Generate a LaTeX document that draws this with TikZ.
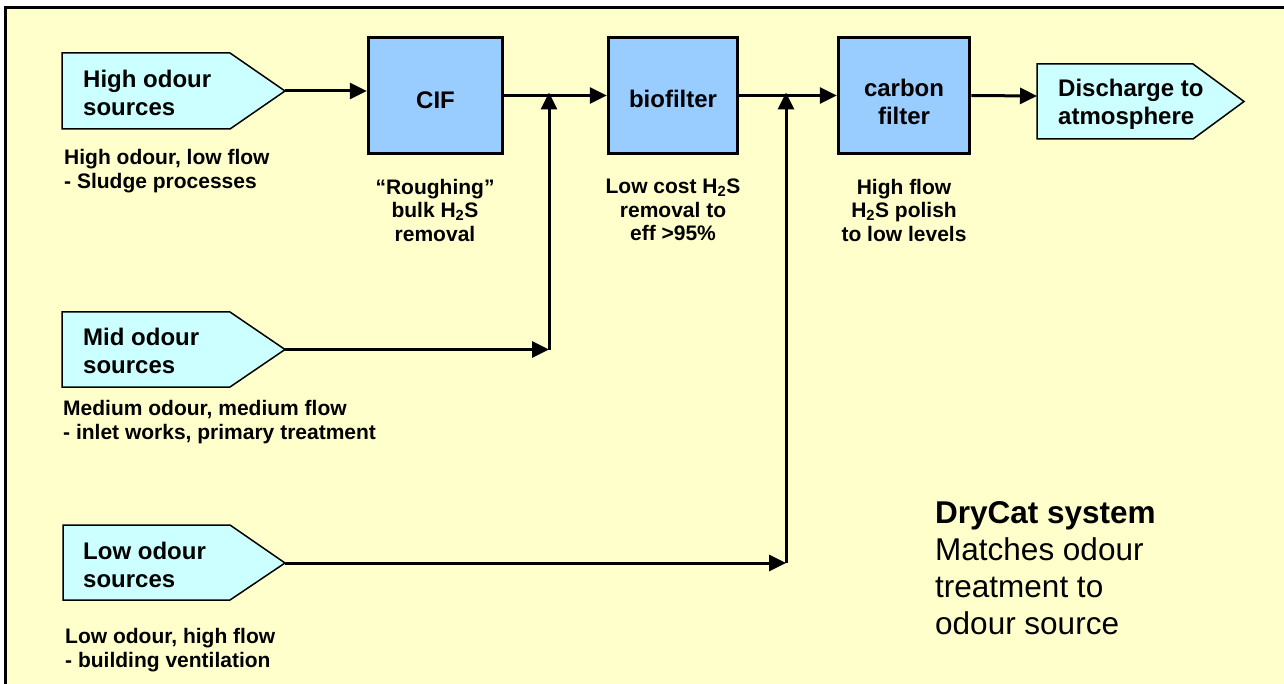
\documentclass[tikz,border=0pt]{standalone}
\usepackage{fontspec}
\setmainfont{Liberation Sans}
\usetikzlibrary{arrows.meta}
\definecolor{bgyellow}{HTML}{FFFFCC}
\definecolor{boxblue}{HTML}{99CCFF}
\definecolor{srccyan}{HTML}{CCFFFF}
\tikzset{
  proc/.style={draw, line width=3.5pt, fill=boxblue, inner sep=0pt},
  proctext/.style={inner sep=0pt, align=center, font=\fontsize{24}{28}\selectfont\bfseries},
  srcshape/.style={draw, line width=1.5pt, fill=srccyan, line join=miter},
  srctext/.style={anchor=west, inner sep=0pt, align=left, font=\fontsize{24}{28}\selectfont\bfseries},
  capt/.style={inner sep=0pt, align=left, font=\fontsize{21}{24}\selectfont\bfseries},
  ccapt/.style={inner sep=0pt, align=center, font=\fontsize{21}{23.5}\selectfont\bfseries},
  flow/.style={line width=3pt, -{Triangle[length=17pt,width=16pt]}},
}
\begin{document}
\begin{tikzpicture}[x=1pt,y=-1pt]
\useasboundingbox (0,0) rectangle (1284,684);
\fill[bgyellow] (6,9) rectangle (1284,684);
\draw[line width=3pt] (5.5,684) -- (5.5,7.5) -- (1284,7.5);

% source shapes
\draw[srcshape] (62,53) -- (230,53) -- (285,91) -- (230,129) -- (62,129) -- cycle;
\coordinate (hsTip) at (285,91);
\node[srctext] (hsT) at (83,93) {High odour\\sources};
\node[capt, anchor=west] (hsC) at (64,171) {High odour, low flow\\- Sludge processes};

\draw[srcshape] (62,312) -- (230,312) -- (285,349.5) -- (230,387) -- (62,387) -- cycle;
\coordinate (msTip) at (285,349.5);
\node[srctext] (msT) at (83,351) {Mid odour\\sources};
\node[capt, anchor=west] (msC) at (63,422) {Medium odour, medium flow\\- inlet works, primary treatment};

\draw[srcshape] (63,525) -- (230,525) -- (285,563) -- (230,600) -- (63,600) -- cycle;
\coordinate (lsTip) at (285,563);
\node[srctext] (lsT) at (83,565) {Low odour\\sources};
\node[capt, anchor=west] (lsC) at (65,650) {Low odour, high flow\\- building ventilation};

% discharge
\draw[srcshape] (1037,64) -- (1193,64) -- (1244,101.5) -- (1193,139) -- (1037,139) -- cycle;
\coordinate (disW) at (1037,96);
\node[srctext] (disT) at (1058,104) {Discharge to\\atmosphere};

% process boxes
\node[proc, minimum width=134pt, minimum height=116pt] (cif) at (435.5,95.5) {};
\node[proc, minimum width=129pt, minimum height=116pt] (bio) at (673,95.5) {};
\node[proc, minimum width=131pt, minimum height=116pt] (car) at (904,95.5) {};
\node[proctext] (cifT) at (435.5,100) {CIF};
\node[proctext] (bioT) at (673,99) {biofilter};
\node[proctext] (carT) at (904,102) {carbon\\filter};

\node[ccapt] (cifC) at (435,210) {“Roughing”\\bulk H\textsubscript{2}S\\removal};
\node[ccapt] (bioC) at (673,210) {Low cost H\textsubscript{2}S\\removal to\\eff >95\%};
\node[ccapt] (carC) at (904,210) {High flow\\H\textsubscript{2}S polish\\to low levels};

% connectors
\coordinate (j1) at (549,349.5);
\coordinate (j2) at (786,563);
\draw[flow] (hsTip) -- (hsTip -| cif.west);
\draw[flow] (cif.east) -- (bio.west);
\draw[flow] (bio.east) -- (car.west);
\draw[flow] (car.east) -- (disW);
\draw[flow] (msTip) -- (j1);
\draw[flow] (j1) -- ([yshift=3pt]j1 |- cif.east);
\draw[flow] (lsTip) -- (j2);
\draw[flow] (j2) -- ([yshift=3pt]j2 |- bio.east);

% note
\node[inner sep=0pt, align=left, anchor=north west, font=\fontsize{31.5}{37}\selectfont] (note) at (935,501)
  {\textbf{DryCat system}\\Matches odour\\treatment to\\odour source};
\end{tikzpicture}
\end{document}
